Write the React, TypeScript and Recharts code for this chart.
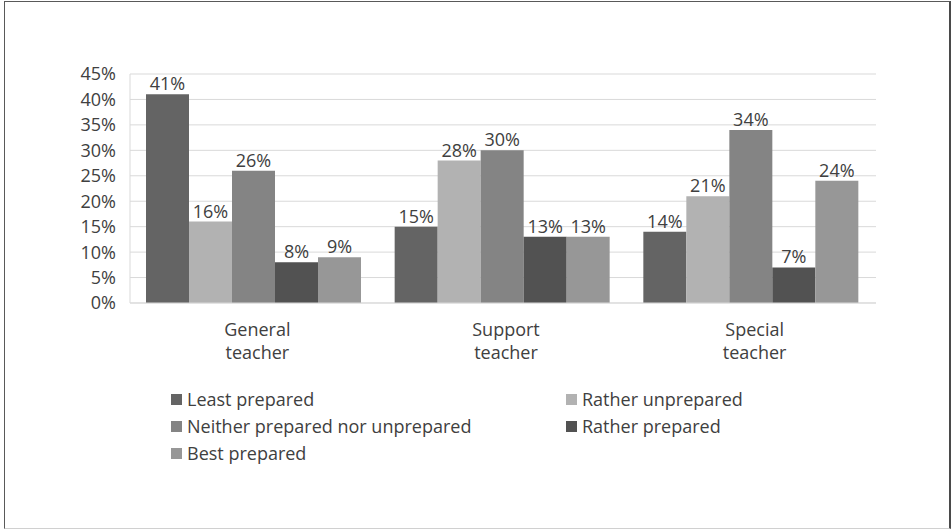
import React from "react";
import { BarChart, Bar, XAxis, YAxis, CartesianGrid, Legend, LabelList } from "recharts";

const roles = ["General teacher", "Support teacher", "Special teacher"];
const leastPrepared = [41, 15, 14];
const ratherUnprepared = [16, 28, 21];
const neitherNor = [26, 30, 34];
const ratherPrepared = [8, 13, 7];
const bestPrepared = [9, 13, 24];
const percentTicks = [0, 5, 10, 15, 20, 25, 30, 35, 40, 45];

const series = [
  { key: "least", name: "Least prepared", values: leastPrepared, color: "#646464" },
  { key: "ratherUn", name: "Rather unprepared", values: ratherUnprepared, color: "#b2b2b2" },
  { key: "neither", name: "Neither prepared nor unprepared", values: neitherNor, color: "#848484" },
  { key: "rather", name: "Rather prepared", values: ratherPrepared, color: "#525252" },
  { key: "best", name: "Best prepared", values: bestPrepared, color: "#979797" },
];

const data = roles.map((role, i) => {
  const row: Record<string, string | number> = { role };
  series.forEach((s) => {
    row[s.key] = s.values[i];
  });
  return row;
});

const FONT = "'Open Sans', sans-serif";
const TEXT = "#404040";
const SIZE = 18;

function RoleTick({ x, y, payload }: any) {
  const words = String(payload.value).split(" ");
  return (
    <text x={x + 3} y={y} textAnchor="middle" fill={TEXT} fontSize={SIZE} fontFamily={FONT}>
      {words.map((w, i) => (
        <tspan key={i} x={x + 3} dy={i === 0 ? 25 : 23}>
          {w}
        </tspan>
      ))}
    </text>
  );
}

// two-column legend in series order
function LegendGrid() {
  return (
    <div
      style={{
        display: "grid",
        gridTemplateColumns: "395px 300px",
        paddingLeft: 171,
        rowGap: 5,
        fontFamily: FONT,
        fontSize: SIZE,
        color: TEXT,
      }}
    >
      {series.map((s) => (
        <div key={s.key} style={{ display: "flex", alignItems: "center", height: 22 }}>
          <span style={{ width: 11, height: 11, background: s.color, marginRight: 5 }} />
          {s.name}
        </div>
      ))}
    </div>
  );
}

export default function App() {
  return (
    <div
      style={{
        position: "absolute",
        left: 0,
        top: 0,
        width: 951,
        height: 530,
        background: "#fff",
      }}
    >
      <div
        style={{
          position: "absolute",
          left: 4,
          top: 1,
          width: 947,
          height: 528,
          boxSizing: "border-box",
          borderLeft: "1px solid #595959",
          borderTop: "1px solid #595959",
          borderRight: "2px solid #4a4a4a",
          borderBottom: "1px solid #d0d0d0",
        }}
      />
      <BarChart
        width={951}
        height={530}
        data={data}
        margin={{ top: 74, right: 75, left: 0, bottom: 77 }}
        barGap={0}
        barCategoryGap={16}
      >
        <CartesianGrid vertical={false} stroke="#d9d9d9" />
        <XAxis
          dataKey="role"
          height={60}
          tick={<RoleTick />}
          tickLine={false}
          axisLine={{ stroke: "#d9d9d9" }}
          interval={0}
        />
        <YAxis
          width={130}
          domain={[0, 45]}
          ticks={percentTicks}
          interval={0}
          tickFormatter={(v) => `${v}%`}
          tick={{ fill: TEXT, fontSize: SIZE, fontFamily: FONT }}
          tickLine={false}
          axisLine={{ stroke: "#d9d9d9" }}
          tickMargin={8}
        />
        <Legend content={<LegendGrid />} wrapperStyle={{ top: 388, left: 0, width: 951, height: 90 }} />
        {series.map((s) => (
          <Bar key={s.key} dataKey={s.key} name={s.name} fill={s.color} isAnimationActive={false}>
            <LabelList
              dataKey={s.key}
              position="top"
              offset={4}
              formatter={(v: any) => `${v}%`}
              fill={TEXT}
              fontSize={SIZE}
              fontFamily={FONT}
            />
          </Bar>
        ))}
      </BarChart>
    </div>
  );
}
